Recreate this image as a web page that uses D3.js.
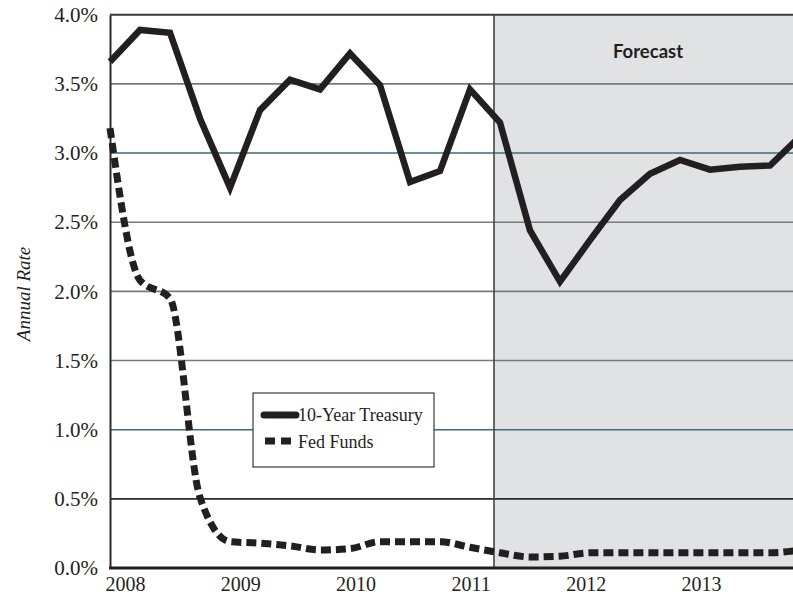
<!DOCTYPE html>
<html>
<head>
<meta charset="utf-8">
<script src="https://cdn.jsdelivr.net/npm/d3@7"></script>
<style>
  html, body { margin: 0; padding: 0; background: #fff; }
  svg { display: block; }
</style>
</head>
<body>
<svg id="chart" width="793" height="598"></svg>
<script>
// ---- data ----
const quarters = [
  "2008Q1","2008Q2","2008Q3","2008Q4",
  "2009Q1","2009Q2","2009Q3","2009Q4",
  "2010Q1","2010Q2","2010Q3","2010Q4",
  "2011Q1","2011Q2","2011Q3","2011Q4",
  "2012Q1","2012Q2","2012Q3","2012Q4",
  "2013Q1","2013Q2","2013Q3","2013Q4"
];
const treasury = [3.66, 3.89, 3.87, 3.25, 2.75, 3.31, 3.53, 3.46, 3.72, 3.49, 2.79, 2.87,
                  3.46, 3.22, 2.44, 2.07, 2.37, 2.66, 2.85, 2.95, 2.88, 2.90, 2.91, 3.12];
const fedFunds = [3.18, 2.08, 1.95, 0.51, 0.19, 0.18, 0.16, 0.13, 0.14, 0.19, 0.19, 0.19,
                  0.15, 0.11, 0.08, 0.085, 0.11, 0.11, 0.11, 0.11, 0.11, 0.11, 0.11, 0.13];
const yearLabels = [2008, 2009, 2010, 2011, 2012, 2013];
const yTicks = [0, 0.5, 1, 1.5, 2, 2.5, 3, 3.5, 4];
const forecastStartIndex = 12.8;
const seriesNames = ["10-Year Treasury", "Fed Funds"];

// ---- layout ----
const W = 793, H = 598;
const mLeft = 110, mTop = 14.7, mBottom = 568, mRight = 800;
const serif = "'Liberation Serif', 'Times New Roman', serif";

const svg = d3.select("#chart");

const xIdx = d3.scaleLinear().domain([0, quarters.length - 1]).range([mLeft, mRight]);
const x = d3.scalePoint().domain(quarters).range([mLeft, mRight]);
const xYear = d3.scaleLinear().domain([2008, 2013]).range([125, 701]);
const y = d3.scaleLinear().domain([0, 4]).range([mBottom, mTop]);

// forecast shading
svg.append("rect")
  .attr("x", xIdx(forecastStartIndex)).attr("y", y(4))
  .attr("width", W - xIdx(forecastStartIndex)).attr("height", y(0) - y(4))
  .attr("fill", "#e1e2e4");

// gridlines
const gridColor = d => (d === 3 || d === 1) ? "#3f6a7c" : (d === 0.5 ? "#2a2a2a" : "#7a7a7a");
svg.append("g").selectAll("line")
  .data(yTicks.filter(d => d > 0 && d < 4))
  .join("line")
  .attr("x1", mLeft).attr("x2", W)
  .attr("y1", d => y(d)).attr("y2", d => y(d))
  .attr("stroke", gridColor)
  .attr("stroke-width", 1.6);

// top border
svg.append("line")
  .attr("x1", mLeft).attr("x2", W).attr("y1", y(4)).attr("y2", y(4))
  .attr("stroke", "#3a3a3a").attr("stroke-width", 2);

// forecast divider
svg.append("line")
  .attr("x1", xIdx(forecastStartIndex)).attr("x2", xIdx(forecastStartIndex))
  .attr("y1", y(4)).attr("y2", y(0))
  .attr("stroke", "#3a3a3a").attr("stroke-width", 1.5);

svg.append("text")
  .attr("x", 648).attr("y", 58)
  .attr("text-anchor", "middle")
  .style("font-family", "Lato, 'Open Sans', sans-serif")
  .style("font-weight", 700)
  .style("font-size", "18.5px")
  .attr("fill", "#231f20")
  .text("Forecast");

// y axis
const yAxis = d3.axisLeft(y).tickValues(yTicks).tickFormat(d => d.toFixed(1) + "%").tickSize(0).tickPadding(12);
const gy = svg.append("g").attr("transform", `translate(${mLeft},0)`).call(yAxis);
gy.attr("font-family", null).attr("font-size", null);
gy.select(".domain").attr("stroke", "#2a2a2a").attr("stroke-width", 2);
gy.selectAll("text")
  .style("font-family", serif)
  .style("font-size", "21px").attr("fill", "#231f20");

// x axis
const xAxis = d3.axisBottom(xYear).tickValues(yearLabels).tickFormat(d3.format("d")).tickSize(0).tickPadding(9);
const gx = svg.append("g").attr("transform", `translate(0,${mBottom})`).call(xAxis);
gx.attr("font-family", null).attr("font-size", null);
gx.select(".domain").remove();
gx.selectAll("text")
  .style("font-family", serif)
  .style("font-size", "20px").attr("fill", "#231f20");
svg.append("line")
  .attr("x1", mLeft - 1).attr("x2", W).attr("y1", mBottom).attr("y2", mBottom)
  .attr("stroke", "#231f20").attr("stroke-width", 3);

// y title
svg.append("text")
  .attr("transform", "translate(30,294) rotate(-90)")
  .attr("text-anchor", "middle")
  .style("font-family", serif)
  .style("font-style", "italic")
  .style("font-size", "19px")
  .attr("fill", "#231f20")
  .text("Annual Rate");

// lines
const lineT = d3.line().x((d, i) => x(quarters[i])).y(d => y(d));
const lineF = d3.line().x((d, i) => x(quarters[i])).y(d => y(d)).curve(d3.curveMonotoneX);

svg.append("path")
  .datum(fedFunds)
  .attr("d", lineF)
  .attr("fill", "none")
  .attr("stroke", "#231f20")
  .attr("stroke-width", 7)
  .attr("stroke-dasharray", "10,5");

svg.append("path")
  .datum(treasury)
  .attr("d", lineT)
  .attr("fill", "none")
  .attr("stroke", "#231f20")
  .attr("stroke-width", 6.5)
  .attr("stroke-linejoin", "miter");

// legend
const lg = svg.append("g");
lg.append("rect")
  .attr("x", 253).attr("y", 393).attr("width", 181).attr("height", 74)
  .attr("fill", "#fff").attr("stroke", "#3a3a3a").attr("stroke-width", 1.2);
lg.append("line")
  .attr("x1", 264).attr("x2", 296).attr("y1", 415).attr("y2", 415)
  .attr("stroke", "#231f20").attr("stroke-width", 7).attr("stroke-linecap", "round");
lg.append("line")
  .attr("x1", 265).attr("x2", 292).attr("y1", 441).attr("y2", 441)
  .attr("stroke", "#231f20").attr("stroke-width", 7).attr("stroke-dasharray", "10,6");
lg.selectAll("text.lab")
  .data(seriesNames)
  .join("text")
  .attr("class", "lab")
  .attr("x", 298)
  .attr("y", (d, i) => 421 + i * 26.5)
  .style("font-family", serif)
  .style("font-size", "18px")
  .attr("fill", "#231f20")
  .text(d => d);
</script>
</body>
</html>
